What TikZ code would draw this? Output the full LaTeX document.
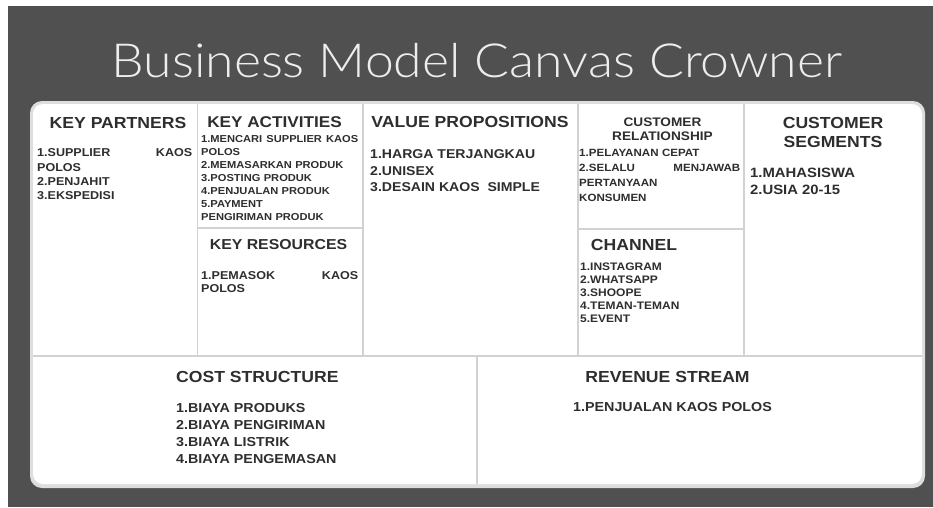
\documentclass[tikz,border=0pt]{standalone}
\usepackage{fontspec}
\setmainfont{Liberation Sans}
\newfontfamily\bodyfont{Liberation Sans}[FakeStretch=1.1]
\newfontfamily\titlefont{Lato Light}[FakeStretch=1.1]
\newcommand\spread{\hskip 0pt plus 1filll\relax}
\definecolor{bgdark}{HTML}{505050}
\definecolor{inkdark}{HTML}{2E2E2E}
\definecolor{gridgray}{HTML}{D2D2D2}
\definecolor{rimgray}{HTML}{DEDEDE}
\definecolor{titlegray}{HTML}{EDEDED}
\begin{document}
\begin{tikzpicture}[x=1pt,y=-1pt,
  head/.style={inner sep=0pt,text=inkdark,font=\bodyfont\bfseries\fontsize{#1}{#1}\selectfont},
  body/.style={inner sep=0pt,text=inkdark,anchor=north west,align=left},
  gridline/.style={draw=gridgray,line width=1.1pt}]
\useasboundingbox (0,0) rectangle (933,507);
\fill[white] (0,0) rectangle (933,507);
\fill[bgdark] (8,6) rectangle (933,507);
% canvas panel with its light rim
\fill[rimgray,rounded corners=12pt] (30,101) rectangle (925,488);
\fill[white,rounded corners=10pt] (33,104) rectangle (922,484);
% grid
\draw[gridline] (197.5,104) -- (197.5,356);
\draw[gridline] (363,104) -- (363,356);
\draw[gridline] (578,104) -- (578,356);
\draw[gridline] (744,104) -- (744,356);
\draw[gridline] (197.5,228) -- (363,228);
\draw[gridline] (578,229) -- (744,229);
\draw[gridline] (33,356) -- (922,356);
\draw[gridline] (477,356) -- (477,484);
% title
\node[inner sep=0pt,text=titlegray,font=\titlefont\fontsize{47}{47}\selectfont] (title) at (477,61) {Business Model Canvas Crowner};
% key partners
\node[head=16] (kph) at (118,122.5) {KEY PARTNERS};
\node[body,text width=155pt,font=\bodyfont\bfseries\fontsize{11.4}{14.4}\selectfont] (kpb) at (37,148.6)
  {1.SUPPLIER\spread KAOS\\POLOS\\2.PENJAHIT\\3.EKSPEDISI};
% key activities
\node[head=15.6] (kah) at (274.5,122) {KEY ACTIVITIES};
\node[body,text width=157pt,font=\bodyfont\bfseries\fontsize{10.1}{13}\selectfont] (kab) at (201,135.4)
  {1.MENCARI\spread SUPPLIER\spread KAOS\\POLOS\\2.MEMASARKAN PRODUK\\3.POSTING PRODUK\\4.PENJUALAN PRODUK\\5.PAYMENT\\PENGIRIMAN PRODUK};
% key resources
\node[head=14.4] (krh) at (278.5,245) {KEY RESOURCES};
\node[body,text width=157pt,font=\bodyfont\bfseries\fontsize{11.4}{13.5}\selectfont] (krb) at (201,270.9)
  {1.PEMASOK\spread KAOS\\POLOS};
% value propositions
\node[head=16] (vph) at (470,122) {VALUE PROPOSITIONS};
\node[body,font=\bodyfont\bfseries\fontsize{12.8}{16.5}\selectfont] (vpb) at (370,149.4)
  {1.HARGA TERJANGKAU\\2.UNISEX\\3.DESAIN KAOS\ \ SIMPLE};
% customer relationship
\node[head=12.4,align=center,font=\bodyfont\bfseries\fontsize{12.4}{14.5}\selectfont] (crh) at (662.5,129) {CUSTOMER\\RELATIONSHIP};
\node[body,text width=161pt,font=\bodyfont\bfseries\fontsize{10.5}{15}\selectfont] (crb) at (579,149.2)
  {1.PELAYANAN CEPAT\\2.SELALU\spread MENJAWAB\\PERTANYAAN\\KONSUMEN};
% channel
\node[head=16] (chh) at (634,245) {CHANNEL};
\node[body,font=\bodyfont\bfseries\fontsize{10.9}{12.8}\selectfont] (chb) at (580,263.1)
  {1.INSTAGRAM\\2.WHATSAPP\\3.SHOOPE\\4.TEMAN-TEMAN\\5.EVENT};
% customer segments
\node[head=16,align=center,font=\bodyfont\bfseries\fontsize{16}{18.4}\selectfont] (csh) at (833,132.5) {CUSTOMER\\SEGMENTS};
\node[body,font=\bodyfont\bfseries\fontsize{13.5}{17}\selectfont] (csb) at (750,168.1)
  {1.MAHASISWA\\2.USIA 20-15};
% cost structure
\node[head=16,anchor=west] (costh) at (176,377) {COST STRUCTURE};
\node[body,font=\bodyfont\bfseries\fontsize{13}{16.7}\selectfont] (costb) at (176,403.7)
  {1.BIAYA PRODUKS\\2.BIAYA PENGIRIMAN\\3.BIAYA LISTRIK\\4.BIAYA PENGEMASAN};
% revenue stream
\node[head=16] (revh) at (667.5,377) {REVENUE STREAM};
\node[head=13] (revb) at (672.5,407) {1.PENJUALAN KAOS POLOS};
\end{tikzpicture}
\end{document}
